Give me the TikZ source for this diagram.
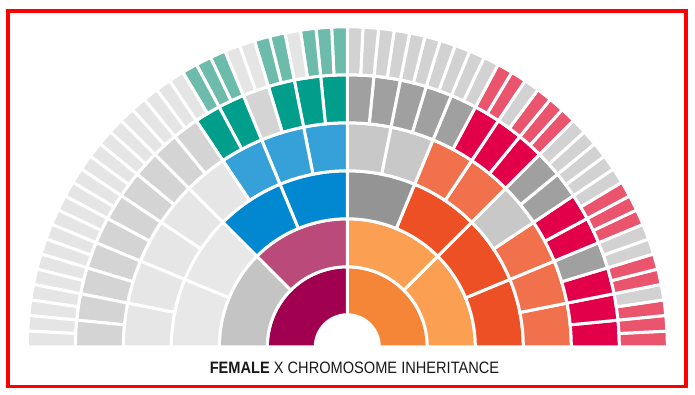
\documentclass[tikz,border=0pt]{standalone}
\usepackage{fontspec}
\setmainfont{Liberation Sans}
\usetikzlibrary{positioning}

% right half: mother's line, left half: father's line
\definecolor{R1}{HTML}{F58638}
\definecolor{R2}{HTML}{FBA052}
\definecolor{R3}{HTML}{EE5025}
\definecolor{R4}{HTML}{F1714C}
\definecolor{R5}{HTML}{E2004A}
\definecolor{R6}{HTML}{EA546D}
\definecolor{L1}{HTML}{A10050}
\definecolor{L2}{HTML}{B94A7A}
\definecolor{L3}{HTML}{0288D1}
\definecolor{L4}{HTML}{35A1D8}
\definecolor{L5}{HTML}{009E8B}
\definecolor{L6}{HTML}{6CBBAB}
\definecolor{gl2}{HTML}{C4C4C4}
\definecolor{gl3}{HTML}{E8E8E8}
\definecolor{gl4}{HTML}{E6E6E6}
\definecolor{gl5}{HTML}{D4D4D4}
\definecolor{gl6}{HTML}{E5E5E5}
\definecolor{gr3}{HTML}{949494}
\definecolor{gr4}{HTML}{C8C8C8}
\definecolor{gr5}{HTML}{A0A0A0}
\definecolor{gr6}{HTML}{D2D2D2}

\begin{document}
\begin{tikzpicture}[x=1pt, y=1pt, seg/.style={draw=white, line width=3pt}]
    \useasboundingbox (0,0) rectangle (695,395);

    % Fan rings, segment 0 starts at the right
    \begin{scope}[shift={(347.3,48.2)}]
    \foreach \n/\cols in {1/{R1,L1},
        2/{R2,R2,L2,gl2},
        3/{R3,R3,R3,gr3,L3,L3,gl3,gl3},
        4/{R4,R4,R4,gr4,R4,R4,gr4,gr4,L4,L4,L4,gl4,gl4,gl4,gl4,gl4},
        5/{R5,R5,R5,gr5,R5,R5,gr5,gr5,R5,R5,R5,gr5,gr5,gr5,gr5,gr5,
           L5,L5,L5,gl5,L5,L5,gl5,gl5,gl5,gl5,gl5,gl5,gl5,gl5,gl5,gl5},
        6/{R6,R6,R6,gr6,R6,R6,gr6,gr6,R6,R6,R6,gr6,gr6,gr6,gr6,gr6,
           R6,R6,R6,gr6,R6,R6,gr6,gr6,gr6,gr6,gr6,gr6,gr6,gr6,gr6,gr6,
           L6,L6,L6,gl6,L6,L6,gl6,gl6,L6,L6,L6,gl6,gl6,gl6,gl6,gl6,
           gl6,gl6,gl6,gl6,gl6,gl6,gl6,gl6,gl6,gl6,gl6,gl6,gl6,gl6,gl6,gl6}}{
        \pgfmathsetmacro\w{180/2^\n}
        \pgfmathsetmacro\ri{32+48*(\n-1)}
        \pgfmathsetmacro\ro{32+48*\n}
        \foreach \c [count=\k from 0] in \cols {
            \pgfmathsetmacro\a{\k*\w}
            \pgfmathsetmacro\b{(\k+1)*\w}
            \filldraw[seg, fill=\c] (\a:\ri) -- (\a:\ro)
                arc[start angle=\a, end angle=\b, radius=\ro] -- (\b:\ri)
                arc[start angle=\b, end angle=\a, radius=\ri] -- cycle;
        }
    }
    \end{scope}

    % Title
    \node[anchor=base, xscale=0.885, font=\fontsize{16.5}{19}\selectfont, text=black!90] (title) at (354.5,21)
        {\textbf{FEMALE} X CHROMOSOME INHERITANCE};

    % Frame
    \draw[red, line width=3.8pt] (8,8.4) rectangle (685.7,384.2);
\end{tikzpicture}
\end{document}
